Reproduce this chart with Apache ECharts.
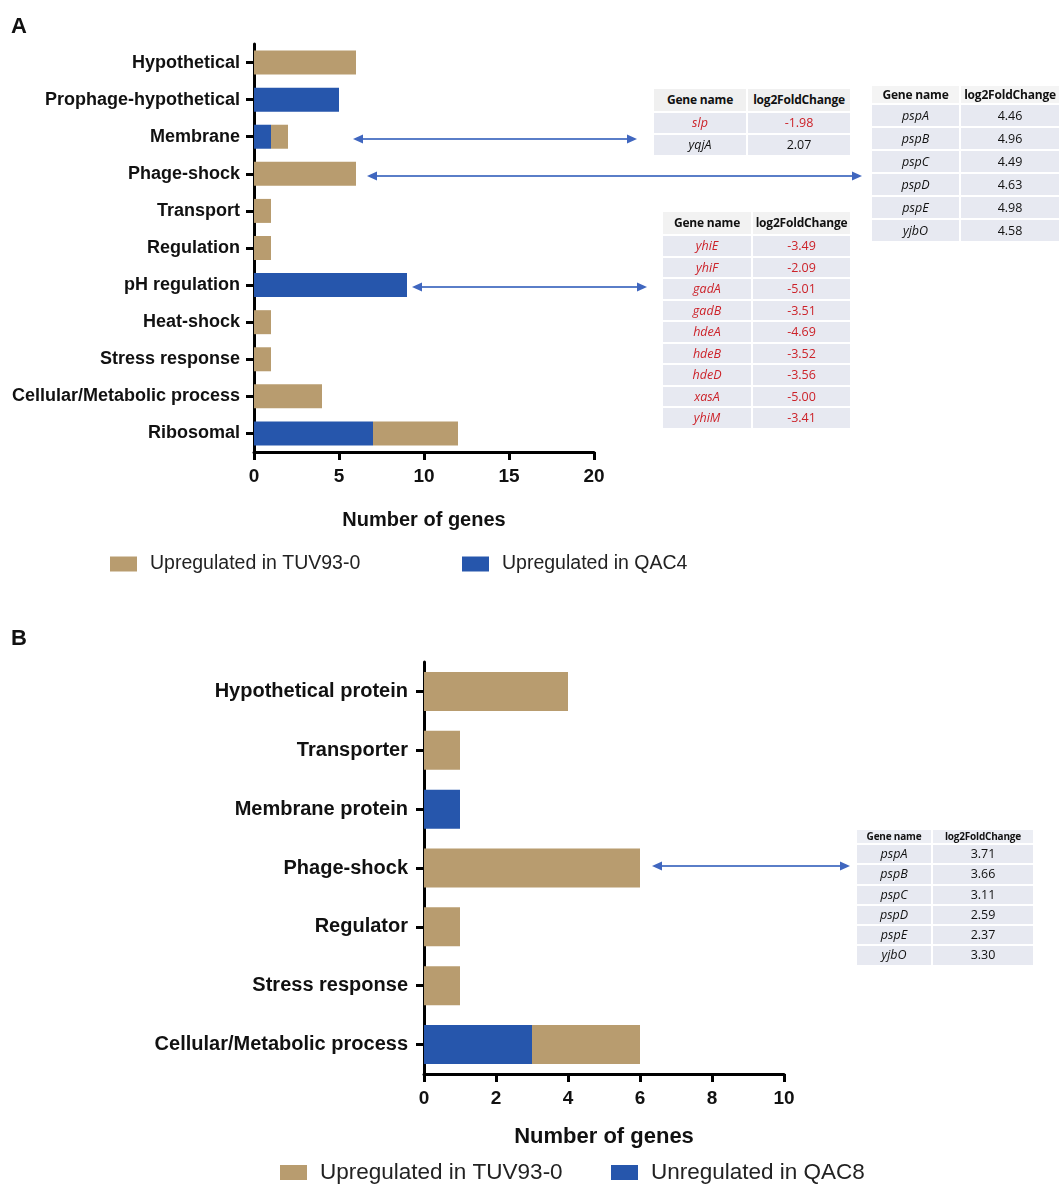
<!DOCTYPE html>
<html>
<head>
<meta charset="utf-8">
<script src="https://cdn.jsdelivr.net/npm/echarts@6/dist/echarts.min.js"></script>
<style>
    body { margin: 0; background: #fff; }
    #wrap { position: relative; width: 1059px; height: 1189px; overflow: hidden; }
    #chart { position: absolute; left: 0; top: 0; width: 1059px; height: 1189px; }
    .gt { position: absolute; font-family: "Open Sans", sans-serif; color: #111; }
    .gt .row { display: flex; box-sizing: border-box; border-bottom: 2px solid #fff; }
    .gt .cell { box-sizing: border-box; border-right: 2px solid #fff; text-align: center; white-space: nowrap; overflow: hidden; }
    .gt .hd .cell { font-weight: bold; letter-spacing: -0.2px; }
    .gt .gene { font-style: italic; }
    #arrows { position: absolute; left: 0; top: 0; }
</style>
</head>
<body>
<div id="wrap">
    <div id="chart"></div>
    <svg id="arrows" width="1059" height="1189"></svg>
</div>
<script>
// panel A
const catsA = ['Hypothetical', 'Prophage-hypothetical', 'Membrane', 'Phage-shock', 'Transport', 'Regulation',
    'pH regulation', 'Heat-shock', 'Stress response', 'Cellular/Metabolic process', 'Ribosomal'];
const qac4A = [0, 5, 1, 0, 0, 0, 9, 0, 0, 0, 7];
const tuvA = [6, 0, 1, 6, 1, 1, 0, 1, 1, 4, 5];

// panel B
const catsB = ['Hypothetical protein', 'Transporter', 'Membrane protein', 'Phage-shock', 'Regulator',
    'Stress response', 'Cellular/Metabolic process'];
const qac8B = [0, 0, 1, 0, 0, 0, 3];
const tuvB = [4, 1, 0, 6, 1, 1, 3];

// gene tables
const membraneGenes = ['slp', 'yqjA'];
const membraneFC = [-1.98, 2.07];
const pspGenesA = ['pspA', 'pspB', 'pspC', 'pspD', 'pspE', 'yjbO'];
const pspFCA = [4.46, 4.96, 4.49, 4.63, 4.98, 4.58];
const phGenes = ['yhiE', 'yhiF', 'gadA', 'gadB', 'hdeA', 'hdeB', 'hdeD', 'xasA', 'yhiM'];
const phFC = [-3.49, -2.09, -5.01, -3.51, -4.69, -3.52, -3.56, -5.00, -3.41];
const pspGenesB = ['pspA', 'pspB', 'pspC', 'pspD', 'pspE', 'yjbO'];
const pspFCB = [3.71, 3.66, 3.11, 2.59, 2.37, 3.30];

const TAN = '#b89c6f';
const BLUE = '#2656ac';
const FONT = '"Liberation Sans", Arial, sans-serif';

var chart = echarts.init(document.getElementById('chart'));

function catAxis(gridIndex, cats, size, margin) {
    return {
        type: 'category', gridIndex: gridIndex, data: cats, inverse: true,
        axisLine: { show: true, lineStyle: { color: '#000', width: 3 } },
        axisTick: { show: true, alignWithLabel: true, length: 8, lineStyle: { color: '#000', width: 3 } },
        axisLabel: { fontFamily: FONT, fontWeight: 'bold', fontSize: size, color: '#111', margin: margin },
        splitLine: { show: false }
    };
}

function valAxis(gridIndex, max, interval, size, nameSize, nameGap, margin) {
    return {
        type: 'value', gridIndex: gridIndex, min: 0, max: max, interval: interval,
        name: 'Number of genes', nameLocation: 'middle', nameGap: nameGap,
        nameTextStyle: { fontFamily: FONT, fontWeight: 'bold', fontSize: nameSize, color: '#111' },
        axisLine: { show: true, lineStyle: { color: '#000', width: 3 } },
        axisTick: { show: true, length: 8, lineStyle: { color: '#000', width: 3 } },
        axisLabel: { fontFamily: FONT, fontWeight: 'bold', fontSize: size, color: '#111', margin: margin },
        splitLine: { show: false }
    };
}

function legendItem(name, left, top, size) {
    return {
        data: [name], left: left, top: top, padding: 0, selectedMode: false,
        icon: 'rect', itemWidth: 27, itemHeight: 15,
        textStyle: { fontFamily: FONT, fontSize: size, color: '#222', padding: [0, 0, 0, 8] }
    };
}

var option = {
    backgroundColor: '#fff',
    animation: false,
    grid: [
        { left: 254, top: 44, width: 340, height: 408 },
        { left: 424, top: 662, width: 360, height: 412 }
    ],
    xAxis: [
        valAxis(0, 20, 5, 19, 20, 58, 15),
        valAxis(1, 10, 2, 19, 22, 52, 15)
    ],
    yAxis: [
        catAxis(0, catsA, 18, 14),
        catAxis(1, catsB, 20, 16)
    ],
    legend: [
        legendItem('Upregulated in TUV93-0', 110, 554, 19.5),
        legendItem('Upregulated in QAC4', 462, 554, 19.5),
        legendItem('Upregulated in TUV93-0', 280, 1161, 22.5),
        legendItem('Unregulated in QAC8', 611, 1161, 22.5)
    ],
    graphic: [
        { type: 'text', left: 11, top: 16, style: { text: 'A', fontFamily: FONT, fontWeight: 'bold', fontSize: 22, fill: '#111' } },
        { type: 'text', left: 11, top: 628, style: { text: 'B', fontFamily: FONT, fontWeight: 'bold', fontSize: 22, fill: '#111' } }
    ],
    series: [
        { name: 'Upregulated in QAC4', type: 'bar', stack: 'a', xAxisIndex: 0, yAxisIndex: 0,
          data: qac4A, barWidth: 24, itemStyle: { color: BLUE } },
        { name: 'Upregulated in TUV93-0', type: 'bar', stack: 'a', xAxisIndex: 0, yAxisIndex: 0,
          data: tuvA, barWidth: 24, itemStyle: { color: TAN } },
        { name: 'Unregulated in QAC8', type: 'bar', stack: 'b', xAxisIndex: 1, yAxisIndex: 1,
          data: qac8B, barWidth: 39, itemStyle: { color: BLUE } },
        { name: 'Upregulated in TUV93-0', type: 'bar', stack: 'b', xAxisIndex: 1, yAxisIndex: 1,
          data: tuvB, barWidth: 39, itemStyle: { color: TAN } }
    ]
};
chart.setOption(option);

// gene tables drawn as html next to the chart
function makeTable(cfg, genes, values) {
    var t = document.createElement('div');
    t.className = 'gt';
    t.style.left = cfg.left + 'px';
    t.style.top = cfg.top + 'px';
    var rows = [['Gene name', 'log2FoldChange', true]];
    genes.forEach(function (g, i) { rows.push([g, values[i].toFixed(2), false]); });
    rows.forEach(function (r, i) {
        var row = document.createElement('div');
        row.className = 'row' + (r[2] ? ' hd' : '');
        var h = r[2] ? cfg.headH : cfg.rowH;
        row.style.height = h + 'px';
        var red = !r[2] && parseFloat(r[1]) < 0;
        [0, 1].forEach(function (c) {
            var cell = document.createElement('div');
            cell.className = 'cell' + (!r[2] && c === 0 ? ' gene' : '');
            cell.style.width = cfg.widths[c] + 'px';
            cell.style.lineHeight = (h - 2) + 'px';
            cell.style.background = r[2] ? cfg.headBg : '#e7e9f1';
            cell.style.fontSize = (r[2] ? cfg.headFs : cfg.fs) + 'px';
            if (red) cell.style.color = '#cc2229';
            cell.textContent = r[c];
            row.appendChild(cell);
        });
        t.appendChild(row);
    });
    document.getElementById('wrap').appendChild(t);
}

makeTable({ left: 654, top: 89, widths: [94, 104], headH: 24, rowH: 22, fs: 12.5, headFs: 12, headBg: '#f0f0f0' },
    membraneGenes, membraneFC);
makeTable({ left: 872, top: 86, widths: [89, 100], headH: 19, rowH: 23, fs: 12.5, headFs: 12, headBg: '#f4f4f4' },
    pspGenesA, pspFCA);
makeTable({ left: 663, top: 212, widths: [90, 99], headH: 24, rowH: 21.5, fs: 12.5, headFs: 12, headBg: '#f2f2f2' },
    phGenes, phFC);
makeTable({ left: 857, top: 830, widths: [76, 102], headH: 15, rowH: 20.3, fs: 12.5, headFs: 10, headBg: '#eceef4' },
    pspGenesB, pspFCB);

// double-headed arrows linking categories to tables
var arrows = [[353, 637, 139], [367, 862, 176], [412, 647, 287], [652, 850, 866]];
var svg = document.getElementById('arrows');
var ns = 'http://www.w3.org/2000/svg';
arrows.forEach(function (a) {
    var x1 = a[0], x2 = a[1], y = a[2];
    var line = document.createElementNS(ns, 'line');
    line.setAttribute('x1', x1 + 8); line.setAttribute('x2', x2 - 8);
    line.setAttribute('y1', y); line.setAttribute('y2', y);
    line.setAttribute('stroke', '#5a7ec8'); line.setAttribute('stroke-width', '1.8');
    svg.appendChild(line);
    [[x1, 1], [x2, -1]].forEach(function (p) {
        var tri = document.createElementNS(ns, 'polygon');
        var tx = p[0], d = p[1];
        tri.setAttribute('points', tx + ',' + y + ' ' + (tx + d * 10) + ',' + (y - 4.5) + ' ' + (tx + d * 10) + ',' + (y + 4.5));
        tri.setAttribute('fill', '#3f66bf');
        svg.appendChild(tri);
    });
});

window.addEventListener('resize', function () {
    chart.resize();
});
</script>
</body>
</html>
